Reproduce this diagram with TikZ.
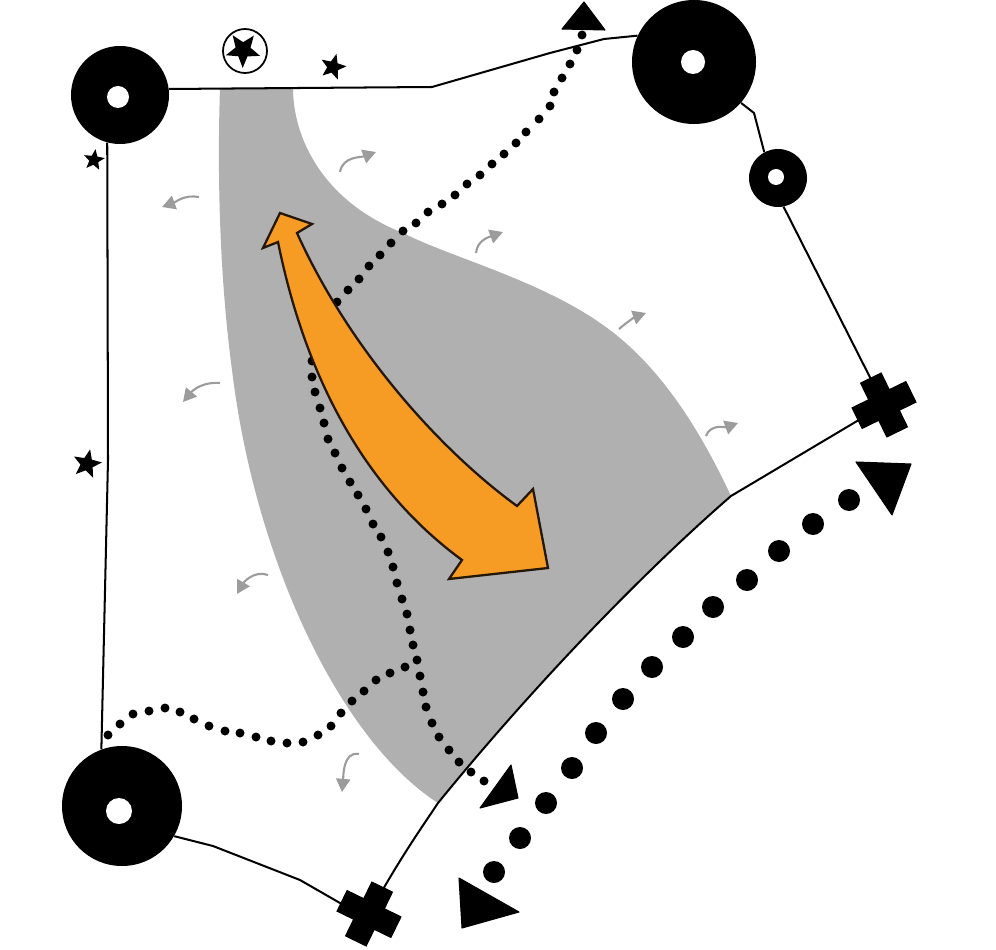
\documentclass[tikz,border=0pt]{standalone}
\usetikzlibrary{arrows.meta,shapes.geometric}
\definecolor{ink}{HTML}{000000}
\definecolor{zone}{HTML}{B0B0B0}
\definecolor{amber}{HTML}{F69C24}
\definecolor{drift}{HTML}{9C9C9C}
\begin{document}
\begin{tikzpicture}[
  x=0.02cm, y=-0.02cm,
  % Node styles
  hub/.style={
    circle,
    fill=ink,
    inner sep=0pt,
    minimum size=#1*0.02cm,
  },
  hole/.style={
    hub=#1,
    fill=white,
  },
  crossbar/.style={
    rectangle,
    fill=ink,
    inner sep=0pt,
    minimum width=61*0.02cm,
    minimum height=24*0.02cm,
  },
  mark star/.style={
    star,
    star points=5,
    star point ratio=2.3,
    fill=ink,
    inner sep=0pt,
    minimum size=#1*0.02cm,
  },
  small dot/.style={hub=9},
  big dot/.style={hub=22},
  % Line styles
  wire/.style={
    draw=ink,
    line width=1.15pt,
    line join=round,
  },
  gust/.style={
    draw=drift,
    line width=1.2pt,
    -{Triangle[length=7.5pt,width=8pt]},
  },
  head/.style={
    fill=ink,
    draw=ink,
    line join=round,
    line width=0.6pt,
  },
]

  \useasboundingbox (0,0) rectangle (996,949);

  % Grey zone along the curved edge
  \fill[zone] (220,88) -- (293,88)
    .. controls (293,135) and (320,200) .. (403,233)
    .. controls (450,257) and (540,280) .. (603,325)
    .. controls (660,365) and (700,430) .. (731,496)
    .. controls (640,575) and (530,690) .. (438,803)
    .. controls (340,740) and (255,560) .. (232,370)
    .. controls (220,280) and (217,180) .. (220,88)
    -- cycle;

  % Small dotted paths
  \foreach \x/\y [count=\i] in {
      582/35,577/50,570/64,562/78,554/92,550/106,539/119,526/132,516/143,
      504/154,492/164,480/175,467/184,455/195,442/204,428/212,416/223,
      403/231,391/243,380/255,369/266,359/279,348/290,337/302,
      312/361,312/377,315/392,320/408,324/423,328/439,335/453,342/468,
      350/482,358/495,366/509,373/524,381/537,388/552,393/567,397/583,
      402/599,407/614,410/630,413/645,417/660,420/676,423/692,426/707,
      432/723,439/737,449/750,459/762,471/772,484/781} {
    \node[small dot] (A-\i) at (\x,\y) {};
  }
  \foreach \x/\y [count=\i] in {
      405/667,390/673,376/680,364/691,352/701,341/713,331/726,318/735,
      303/742,287/743,271/741,256/737,240/733,225/731,209/726,194/719,
      180/712,165/708,149/711,133/714,120/724,108/735} {
    \node[small dot] (B-\i) at (\x,\y) {};
  }

  % Big dotted path outside the edge
  \foreach \x/\y [count=\i] in {
      849/500,813/524,779/551,747/580,713/607,683/637,652/667,
      623/699,596/733,572/768,546/803,520/838,494/872} {
    \node[big dot] (C-\i) at (\x,\y) {};
  }

  % Triangular heads
  \fill[head] (584,2) -- (605,30) -- (562,29) -- cycle;
  \fill[head] (511,765) -- (518,798) -- (480,808) -- cycle;
  \fill[head] (856,462) -- (911,464) -- (892,515) -- cycle;
  \fill[head] (459,878) -- (519,912) -- (462,928) -- cycle;

  % Orange double arrow
  \draw[fill=amber, draw=ink!85!amber, line width=1.3pt, line join=miter]
    (280,213) -- (312,224) -- (297,233)
    .. controls (350,350) and (440,450) .. (517,506)
    -- (533,489) -- (548,568) -- (449,579) -- (462,560)
    .. controls (380,500) and (310,400) .. (278,242)
    -- (263,248) -- cycle;

  % Hubs
  \node[hub=98] (hubNW) at (120,95) {};
  \node[hole=22] (holeNW) at (118,97) {};
  \node[hub=124] (hubNE) at (694,62) {};
  \node[hole=24] (holeNE) at (693,62) {};
  \node[hub=58] (hubE) at (778,178) {};
  \node[hole=16] (holeE) at (776,177) {};
  \node[hub=120] (hubSW) at (122,806) {};
  \node[hole=26] (holeSW) at (119,811) {};

  % Crosses
  \node[crossbar, rotate=26] (crossE) at (884,405) {};
  \node[crossbar, rotate=116] (crossEb) at (crossE) {};
  \node[crossbar, rotate=-26] (crossS) at (369,914) {};
  \node[crossbar, rotate=64] (crossSb) at (crossS) {};

  % Outline
  \draw[wire] (hubNW.7) -- (432,87) -- (550,53) -- (604,39) -- (hubNE.155);
  \draw[wire] (hubNE.-41) -- (754,113) -- (hubE.118);
  \draw[wire] (hubE.-79) -- (crossE.center);
  \draw[wire] (crossE.center) -- (731,496)
    .. controls (640,575) and (530,690) .. (438,803)
    .. controls (420,830) and (400,858) .. (crossS.center);
  \draw[wire] (hubSW.-30) -- (213,846) -- (300,880) -- (340,903) -- (crossS.center);
  \draw[wire] (hubNW.255) -- (108,460) -- (hubSW.110);

  % Stars
  \node[draw=ink, fill=white, circle, line width=1pt, inner sep=0pt,
    minimum size=44*0.02cm] (badge) at (245,51) {};
  \node[mark star=36, rotate=-37] (starBadge) at (243,50) {};
  \node[mark star=27, rotate=-15] (starTop) at (333,67) {};
  \node[mark star=22, rotate=-8] (starCorner) at (94,160) {};
  \node[mark star=30, rotate=-12] (starLeft) at (87,464) {};

  % Small grey arrows
  \foreach \xa/\ya/\o/\j/\xb/\yb in {
      340/172/80/200/376/152,
      476/253/85/200/503/232,
      619/329/40/200/646/313,
      706/436/70/200/738/423,
      199/197/170/20/162/207,
      220/383/175/50/183/402,
      268/575/160/60/237/594,
      359/754/170/85/342/792} {
    \draw[gust] (\xa,\ya) to[out=\o,in=\j] (\xb,\yb);
  }

\end{tikzpicture}
\end{document}
